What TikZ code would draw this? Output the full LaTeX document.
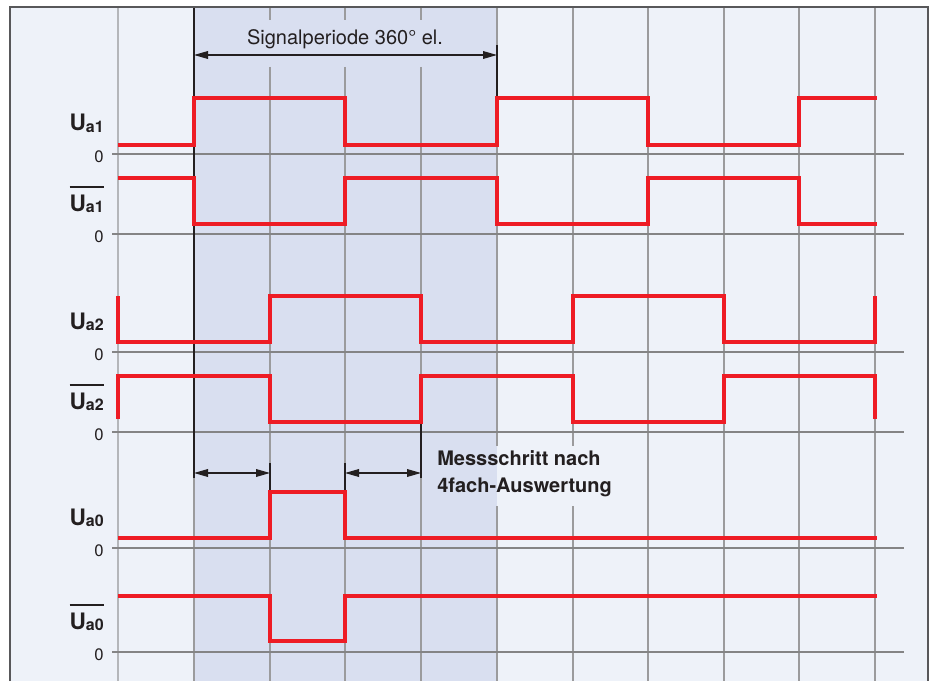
\documentclass[tikz,border=0pt]{standalone}
\usepackage{fontspec}
\setmainfont{TeX Gyre Heros}
\usetikzlibrary{arrows.meta}
\definecolor{PanelBlue}{HTML}{EEF2F9}
\definecolor{BandBlue}{HTML}{D9DFF0}
\definecolor{SigRed}{HTML}{EE1C25}
\definecolor{GridGray}{HTML}{9B9B9D}
\definecolor{LightGray}{HTML}{B4B6BA}
\definecolor{FrameGray}{HTML}{58585A}
\definecolor{InkBlack}{HTML}{231F20}
\newcommand{\sig}[1]{\fontsize{17}{20}\selectfont\bfseries U\raisebox{-1.2pt}{\fontsize{12}{14}\selectfont #1}}
\newcommand{\sigbar}[1]{\setbox0\hbox{\sig{#1}}\rlap{\rule[17.5pt]{\wd0}{1.1pt}}\box0}

\begin{document}
\begin{tikzpicture}[x=0.75pt,y=-0.75pt,
    grid/.style={GridGray,line width=0.9pt},
    extline/.style={InkBlack,line width=1pt},
    zeroline/.style={GridGray!85!black,line width=0.9pt},
    signal/.style={SigRed,line width=3.3pt},
    dim/.style={{Triangle[length=10.5pt,width=5.8pt]}-{Triangle[length=10.5pt,width=5.8pt]},
                InkBlack,line width=0.8pt},
    siglbl/.style={anchor=base east,inner sep=0pt,text=InkBlack},
    zerolbl/.style={anchor=base east,inner sep=0pt,text=InkBlack,font=\fontsize{12.5}{14}\selectfont},
    note/.style={anchor=base west,inner sep=0pt,align=left,text=InkBlack,
                 font=\fontsize{15}{20}\selectfont\bfseries}]
    \useasboundingbox (0,0) rectangle (934,681);
    % panel and shaded signal period
    \fill[PanelBlue] (10,7) rectangle (928,681);
    \fill[BandBlue] (194,7) rectangle (497,681);
    % vertical grid
    \draw[grid,LightGray] (118,7) -- (118,681);
    \foreach \x in {648,724,799,875}
      \draw[grid] (\x,7) -- (\x,681);
    \draw[grid] (194,478) -- (194,681);
    \foreach \x in {270,345,421} {
      \draw[grid] (\x,7) -- (\x,20);
      \draw[grid] (\x,67) -- (\x,681);
    }
    \draw[grid] (497,7) -- (497,446) (497,506) -- (497,681);
    \draw[grid] (573,7) -- (573,446) (573,506) -- (573,681);
    % zero lines and their labels
    \foreach \z [count=\k] in {154,234,352,432,548,652} {
      \draw[zeroline] (112,\z) -- (904,\z);
      \node[zerolbl] (zero\k) at (104,\z+8) {0};
    }
    % extension lines
    \draw[extline] (194,7) -- (194,478);
    \draw[extline] (497,45) -- (497,98);
    \draw[extline] (421,422) -- (421,478);
    \draw[extline] (270,463) -- (270,492);
    \draw[extline] (345,463) -- (345,492);
    % signals
    \draw[signal] (118,145) -| (194,98) -| (345,145) -| (497,98) -| (648,145) -| (799,98) -- (877,98);
    \draw[signal] (118,178) -| (194,224) -| (345,178) -| (497,224) -| (648,178) -| (799,224) -- (877,224);
    \draw[signal] (118,296) -- (118,342) -| (270,296) -| (421,342) -| (573,296) -| (724,342) -| (875,296);
    \draw[signal] (118,419) -- (118,376) -| (270,422) -| (421,376) -| (573,422) -| (724,376) -| (875,419);
    \draw[signal] (118,538) -| (270,492) -| (345,538) -- (877,538);
    \draw[signal] (118,596) -| (270,641) -| (345,596) -- (877,596);
    % signal names
    \node[siglbl] (ua1) at (104,131) {\sig{a1}};
    \node[siglbl] (ua1n) at (104,211) {\sigbar{a1}};
    \node[siglbl] (ua2) at (104,329) {\sig{a2}};
    \node[siglbl] (ua2n) at (104,409) {\sigbar{a2}};
    \node[siglbl] (ua0) at (104,525) {\sig{a0}};
    \node[siglbl] (ua0n) at (104,629) {\sigbar{a0}};
    % dimensions
    \coordinate (per0) at (194,55);
    \coordinate (per1) at (497,55);
    \draw[dim] (per0) -- (per1);
    \node[anchor=base,inner sep=0pt,text=InkBlack,font=\fontsize{15}{18}\selectfont]
      (period) at (345,45) {Signalperiode 360° el.};
    \coordinate (step0) at (194,473);
    \coordinate (step1) at (270,473);
    \coordinate (step2) at (345,473);
    \coordinate (step3) at (421,473);
    \draw[dim] (step0) -- (step1);
    \draw[dim] (step2) -- (step3);
    \node[note] (step) at (437,492) {Messschritt nach\\4fach-Auswertung};
    % frame
    \draw[FrameGray,line width=1.5pt] (10,681) -- (10,7) -- (928,7) -- (928,681);
  \end{tikzpicture}
\end{document}
